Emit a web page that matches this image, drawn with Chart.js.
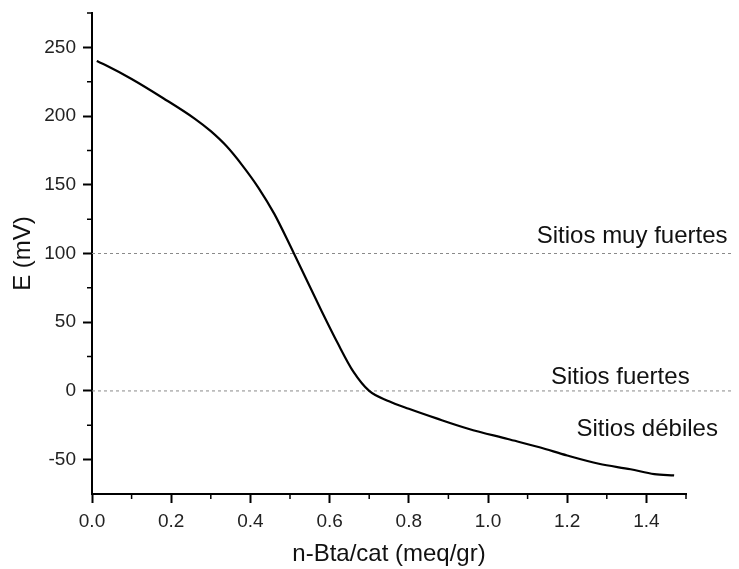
<!DOCTYPE html>
<html>
<head>
<meta charset="utf-8">
<script src="https://cdn.jsdelivr.net/npm/chart.js@4.4.1/dist/chart.umd.min.js"></script>
<style>
  html, body { margin: 0; padding: 0; background: #fff; }
  #wrap { width: 739px; height: 569px; }
</style>
</head>
<body>
<div id="wrap"><canvas id="titration"></canvas></div>
<script>
// n-butylamine titration curve: electrode potential vs. amine added
const loading = [0.012, 0.035, 0.10, 0.18, 0.26, 0.30, 0.34, 0.38, 0.42, 0.46, 0.50, 0.54,
  0.58, 0.62, 0.66, 0.70, 0.75, 0.80, 0.87, 0.95, 1.05, 1.13, 1.20, 1.28, 1.36, 1.42, 1.47];
const potential = [240, 237, 227, 213, 198, 189, 178, 164, 148, 129, 106, 82,
  58, 35, 14, 0, -7.5, -13, -20, -27.5, -35, -41, -47, -53, -57, -60.5, -61.5];

const xTicks = [0, 0.2, 0.4, 0.6, 0.8, 1.0, 1.2, 1.4];
const xMinor = [0.1, 0.3, 0.5, 0.7, 0.9, 1.1, 1.3, 1.5];
const yTicks = [-50, 0, 50, 100, 150, 200, 250];
const yMinor = [-25, 25, 75, 125, 175, 225, 275];

// site-strength boundaries and their names
const siteLevels = [100, 0];
const siteNames = ["Sitios muy fuertes", "Sitios fuertes", "Sitios débiles"];
const nameAtX = [1.364, 1.334, 1.402];
const nameAtE = [108, 5, -33];

const FONT = '"Liberation Sans", Arial, sans-serif';
Chart.defaults.font.family = FONT;

const curve = loading.map((v, i) => ({ x: v, y: potential[i] }));

const levelSets = siteLevels.map(level => ({
  data: [{ x: 0, y: level }, { x: 1.62, y: level }],
  borderColor: '#8a8a8a',
  borderWidth: 1,
  borderDash: [3, 3],
  pointRadius: 0,
  clip: false
}));

const minorTicks = {
  id: 'minorTicks',
  afterDraw(chart) {
    const { ctx, chartArea, scales: { x, y } } = chart;
    ctx.save();
    ctx.strokeStyle = '#000';
    ctx.lineWidth = 1.5;
    ctx.beginPath();
    xMinor.forEach(v => {
      const px = x.getPixelForValue(v);
      ctx.moveTo(px, chartArea.bottom);
      ctx.lineTo(px, chartArea.bottom + 5);
    });
    yMinor.forEach(v => {
      const py = y.getPixelForValue(v);
      ctx.moveTo(chartArea.left, py);
      ctx.lineTo(chartArea.left - 5, py);
    });
    ctx.stroke();
    ctx.restore();
  }
};

const siteLabels = {
  id: 'siteLabels',
  afterDatasetsDraw(chart) {
    const { ctx, scales: { x, y } } = chart;
    ctx.save();
    ctx.fillStyle = '#111';
    ctx.font = '24px ' + FONT;
    ctx.textAlign = 'center';
    ctx.textBaseline = 'alphabetic';
    siteNames.forEach((name, i) => {
      ctx.fillText(name, x.getPixelForValue(nameAtX[i]), y.getPixelForValue(nameAtE[i]));
    });
    ctx.restore();
  }
};

new Chart(document.getElementById('titration'), {
  type: 'line',
  data: {
    datasets: [
      {
        data: curve,
        borderColor: '#000',
        borderWidth: 2.2,
        pointRadius: 0,
        cubicInterpolationMode: 'monotone'
      },
      ...levelSets
    ]
  },
  options: {
    responsive: true,
    maintainAspectRatio: false,
    animation: false,
    layout: { padding: { top: 13, right: 53, left: 0, bottom: 0 } },
    plugins: { legend: { display: false }, tooltip: { enabled: false } },
    scales: {
      x: {
        type: 'linear',
        min: 0,
        max: 1.5,
        afterBuildTicks: s => { s.ticks = xTicks.map(v => ({ value: v })); },
        afterFit: s => { s.height = 75; },
        border: { color: '#000', width: 2 },
        grid: { drawOnChartArea: false, tickLength: 9, tickWidth: 2, tickColor: '#000' },
        ticks: {
          color: '#222',
          font: { size: 19 },
          padding: 7,
          maxRotation: 0,
          callback: v => v.toFixed(1)
        },
        title: {
          display: true,
          text: 'n-Bta/cat (meq/gr)',
          color: '#111',
          font: { size: 24 },
          padding: { top: 0, bottom: 0 }
        }
      },
      y: {
        type: 'linear',
        min: -75,
        max: 275,
        afterBuildTicks: s => { s.ticks = yTicks.map(v => ({ value: v })); },
        afterFit: s => { s.width = 92; s.paddingTop = 0; s.paddingBottom = 0; },
        border: { color: '#000', width: 2 },
        grid: { drawOnChartArea: false, tickLength: 9, tickWidth: 2, tickColor: '#000' },
        ticks: {
          color: '#222',
          font: { size: 19 },
          padding: 7
        },
        title: {
          display: true,
          text: 'E (mV)',
          color: '#111',
          font: { size: 24 },
          padding: { top: 9, bottom: 0 }
        }
      }
    }
  },
  plugins: [minorTicks, siteLabels]
});
</script>
</body>
</html>
